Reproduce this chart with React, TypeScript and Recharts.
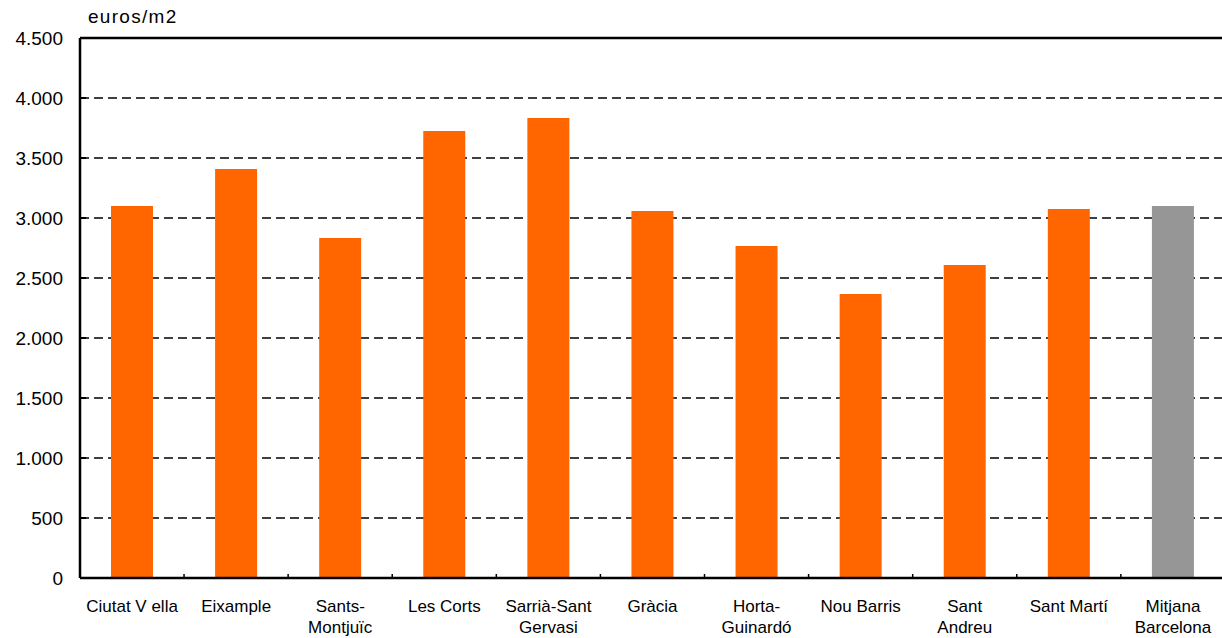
import { BarChart, Bar, XAxis, YAxis, CartesianGrid, ReferenceLine, Cell } from "recharts";

const districts = [
  "Ciutat V ella",
  "Eixample",
  "Sants-\nMontjuïc",
  "Les Corts",
  "Sarrià-Sant\nGervasi",
  "Gràcia",
  "Horta-\nGuinardó",
  "Nou Barris",
  "Sant\nAndreu",
  "Sant Martí",
  "Mitjana\nBarcelona",
];

const pricePerM2 = [3100, 3408, 2833, 3725, 3833, 3058, 2767, 2367, 2608, 3075, 3100];

const yTicks = [0, 500, 1000, 1500, 2000, 2500, 3000, 3500, 4000, 4500];

const AVERAGE = "Mitjana\nBarcelona";
const ORANGE = "#FF6600";
const GREY = "#969696";
const FONT = "'Liberation Sans', Arial, sans-serif";
const BAND = 104;

const data = districts.map((name, i) => ({ name, value: pricePerM2[i] }));

// 4500 -> "4.500"
const fmt = (v: number) => String(v).replace(/\B(?=(\d{3})+(?!\d))/g, ".");

function XTick(props: any) {
  const { x, y, payload } = props;
  const lines = String(payload.value).split("\n");
  return (
    <g>
      <line x1={x + BAND / 2} x2={x + BAND / 2} y1={y} y2={y - 4} stroke="#000" strokeWidth={1.5} />
      <text x={x} y={y + 34} textAnchor="middle" fontSize={17} fontFamily={FONT} fill="#000">
        {lines.map((l, i) => (
          <tspan key={i} x={x} dy={i === 0 ? 0 : 21}>
            {l}
          </tspan>
        ))}
      </text>
    </g>
  );
}

function YTick(props: any) {
  const { x, y, payload } = props;
  return (
    <g>
      <line x1={x + 17} x2={x + 23} y1={y} y2={y} stroke="#000" strokeWidth={2} />
      <text x={x} y={y + 7} textAnchor="end" fontSize={19} fontFamily={FONT} fill="#000">
        {fmt(payload.value)}
      </text>
    </g>
  );
}

export default function App() {
  return (
    <div style={{ position: "absolute", left: 0, top: 0, width: 1222, height: 638, overflow: "hidden", background: "#fff" }}>
      <div
        style={{
          position: "absolute",
          left: 88,
          top: 6,
          fontFamily: FONT,
          fontSize: 19,
          color: "#000",
          letterSpacing: 1.3,
        }}
      >
        euros/m2
      </div>
      <BarChart
        width={1230}
        height={638}
        data={data}
        margin={{ top: 38, right: 5, left: 0, bottom: 0 }}
        barSize={42}
      >
        <CartesianGrid vertical={false} stroke="#000" strokeWidth={1.5} strokeDasharray="9 5" />
        <XAxis
          dataKey="name"
          height={60}
          interval={0}
          tickLine={false}
          tickSize={0}
          tickMargin={0}
          axisLine={{ stroke: "#000", strokeWidth: 2.5 }}
          tick={<XTick />}
        />
        <YAxis
          width={80}
          domain={[0, 4500]}
          ticks={yTicks}
          tickLine={false}
          tickSize={0}
          tickMargin={17}
          axisLine={{ stroke: "#000", strokeWidth: 2.5 }}
          tick={<YTick />}
        />
        <ReferenceLine y={4500} stroke="#000" strokeWidth={2.5} />
        <Bar dataKey="value" isAnimationActive={false}>
          {data.map((d) => (
            <Cell key={d.name} fill={d.name === AVERAGE ? GREY : ORANGE} />
          ))}
        </Bar>
      </BarChart>
    </div>
  );
}
